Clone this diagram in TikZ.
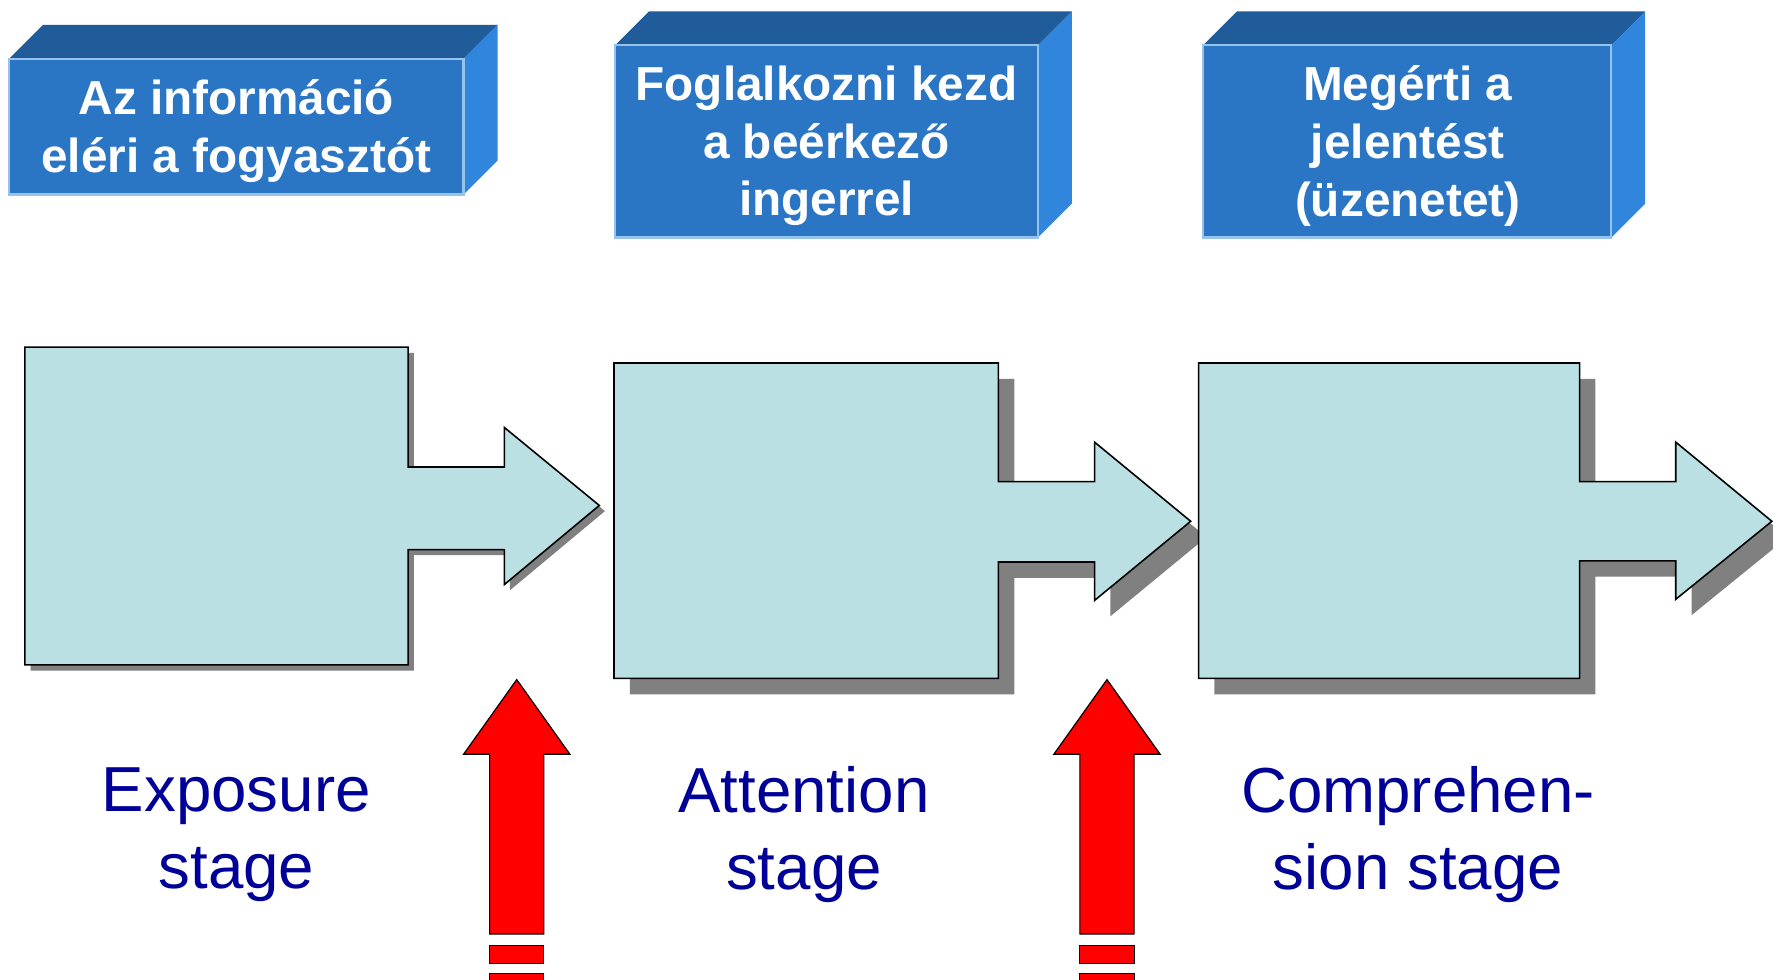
\documentclass[tikz,border=0pt]{standalone}
\usepackage{fontspec}
\setmainfont{Liberation Sans}
\definecolor{frontblue}{RGB}{42,117,196}
\definecolor{topblue}{RGB}{33,92,154}
\definecolor{sideblue}{RGB}{47,134,220}
\definecolor{edgeblue}{RGB}{150,195,235}
\definecolor{stagefill}{RGB}{187,224,227}
\definecolor{shadowgray}{RGB}{128,128,128}
\definecolor{stageblue}{RGB}{0,0,153}
\tikzset{
  front/.style={fill=frontblue,draw=edgeblue,line width=0.6pt},
  topface/.style={fill=topblue},
  sideface/.style={fill=sideblue},
  boxtext/.style={text=white,font=\bfseries\fontsize{12}{14.5}\selectfont,align=center},
  stageshape/.style={fill=stagefill,draw=black,line width=0.4pt},
  shadowshape/.style={fill=shadowgray},
  redarrow/.style={fill=red,draw=black,line width=0.3pt},
  stagelabel/.style={text=stageblue,font=\fontsize{16}{19.4}\selectfont,align=center}
}
\newcommand\cubebox[4]{%
  \fill[topface] (#1,#2) -- ({#1+30},{#2-30}) -- ({#3+30},{#2-30}) -- (#3,#2) -- cycle;
  \fill[sideface] (#3,#2) -- ({#3+30},{#2-30}) -- ({#3+30},{#4-30}) -- (#3,#4) -- cycle;
  \path[front] (#1,#2) rectangle (#3,#4);
}
\begin{document}
\begin{tikzpicture}[x=0.01cm,y=-0.01cm]
\useasboundingbox (0,0) rectangle (1568,866);
\clip (0,0) rectangle (1568,866);
\fill[white] (0,0) rectangle (1568,866);
% 3D blue boxes
\cubebox{8}{52}{410}{172}
\cubebox{544}{40}{918}{210}
\cubebox{1064}{40}{1425}{210}
\node[boxtext] (t1) at (209,116) {Az információ\\eléri a fogyasztót};
\node[boxtext] (t2) at (731,129) {Foglalkozni kezd\\a beérkező\\ingerrel};
\node[boxtext] (t3) at (1245,129) {Megérti a\\jelentést\\(üzenetet)};
% stage shapes
\def\shapeA{(22,307) -- (361,307) -- (361,413) -- (446,413) -- (446,378) -- (530,447) -- (446,517) -- (446,486) -- (361,486) -- (361,588) -- (22,588) -- cycle}
\def\shapeB{(543,321) -- (883,321) -- (883,426) -- (968,426) -- (968,391) -- (1053,461) -- (968,531) -- (968,497) -- (883,497) -- (883,600) -- (543,600) -- cycle}
\def\shapeC{(1060,321) -- (1397,321) -- (1397,426) -- (1482,426) -- (1482,391) -- (1567,461) -- (1482,530) -- (1482,496) -- (1397,496) -- (1397,600) -- (1060,600) -- cycle}
\fill[shadowshape,shift={(5,5)}] \shapeA;
\path[stageshape] \shapeA;
\fill[shadowshape,shift={(14,14)}] \shapeB;
\path[stageshape] \shapeB;
\fill[shadowshape,shift={(14,14)}] \shapeC;
\path[stageshape] \shapeC;
% red arrows
\path[redarrow] (457,601) -- (504,667) -- (481,667) -- (481,826) -- (433,826) -- (433,667) -- (410,667) -- cycle;
\path[redarrow] (433,836) rectangle (481,852);
\path[redarrow] (433,861) rectangle (481,890);
\path[redarrow] (979,601) -- (1026,667) -- (1003,667) -- (1003,826) -- (955,826) -- (955,667) -- (932,667) -- cycle;
\path[redarrow] (955,836) rectangle (1003,852);
\path[redarrow] (955,861) rectangle (1003,890);
% stage labels
\node[stagelabel] (l1) at (209,738) {Exposure\\stage};
\node[stagelabel] (l2) at (711,738) {Attention\\stage};
\node[stagelabel] (l3) at (1254,738) {Comprehen-\\sion stage};
\end{tikzpicture}
\end{document}
